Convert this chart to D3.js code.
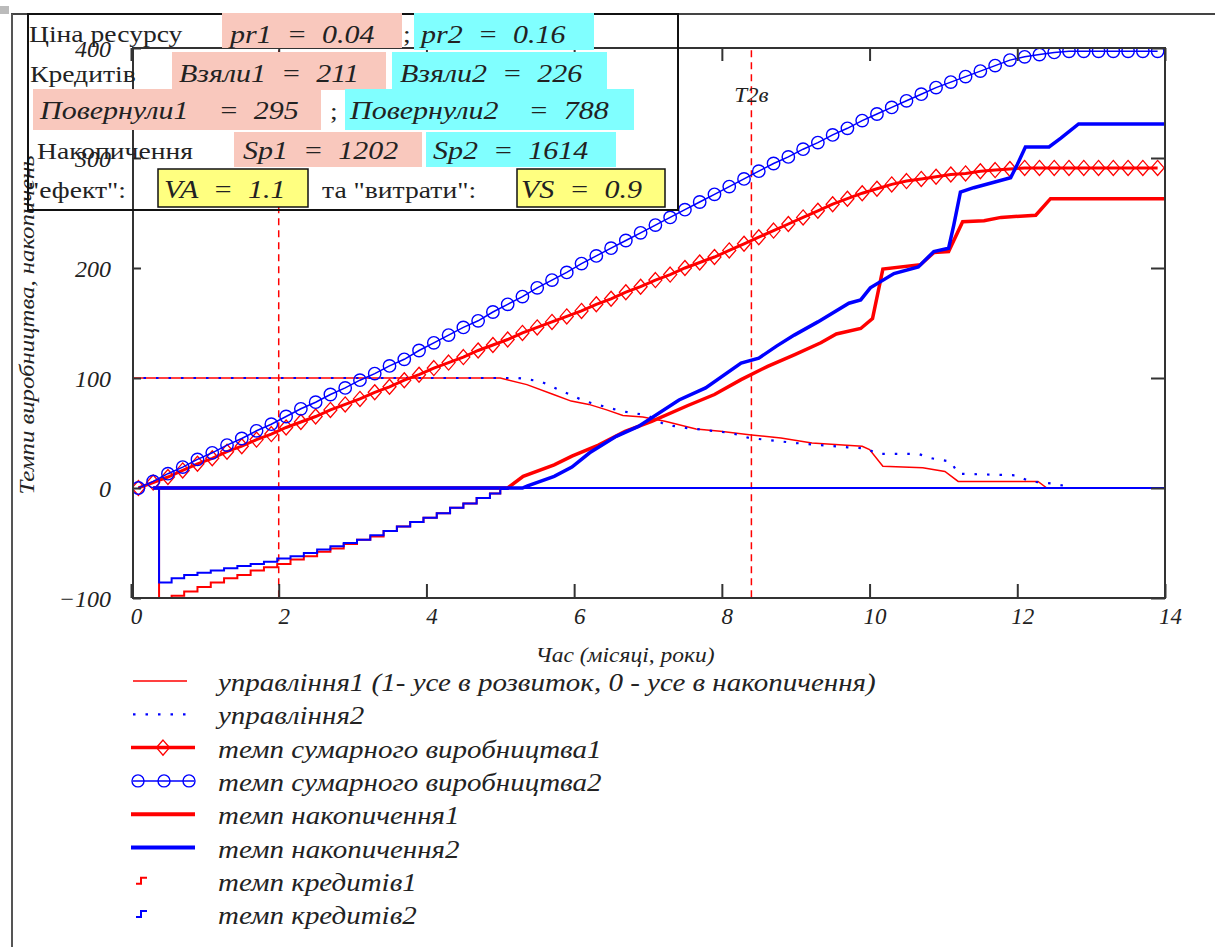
<!DOCTYPE html>
<html>
<head>
<meta charset="utf-8">
<script src="https://cdn.jsdelivr.net/npm/d3@7"></script>
<style>
  body { margin: 0; background: #fff; }
  text { font-family: "Liberation Serif", "Times New Roman", serif; fill: #222; }
  .it { font-style: italic; }
  .pre { white-space: pre; }
</style>
</head>
<body>
<svg id="chart" width="1215" height="947"></svg>
<script>
// ---- data ----
const prodTimes = d3.range(0.1, 14, 0.2);   // 0.1 .. 13.9
const prod1 = [0, 5, 10, 16, 22, 27, 33, 38, 44, 49, 55, 60, 65, 71, 76, 81, 87, 92, 98, 103,
  109, 114, 119, 125, 130, 135, 141, 146, 151, 156, 161, 167, 172, 178, 183, 189, 194, 200, 205, 210,
  216, 222, 228, 234, 240, 246, 252, 258, 263, 268, 272, 276, 279, 281, 283, 285, 286, 288, 289, 290,
  291, 291, 291, 291, 291, 291, 291, 291, 291, 291];
const prod2 = [0, 6, 13, 19, 26, 32, 39, 45, 52, 58, 65, 72, 78, 85, 91, 98, 104, 111, 117, 125,
  132, 139, 146, 152, 160, 167, 174, 182, 189, 196, 204, 211, 218, 225, 232, 239, 246, 253, 260, 267,
  274, 281, 288, 295, 301, 308, 314, 321, 327, 334, 340, 346, 352, 358, 364, 369, 374, 379, 384, 389,
  392, 394, 396, 397, 397, 397, 397, 397, 397, 397];

const ctrl1T = [0, 5.0, 5.36, 5.72, 5.96, 6.2, 6.44, 6.66, 6.93, 7.23, 7.65, 7.98, 8.37, 8.8, 9.22, 9.9, 10.0, 10.18, 10.72, 11.02, 11.2, 12.28, 12.4, 14];
const ctrl1V = [100, 100, 94, 85, 79, 76, 71, 66, 64.5, 60.6, 53.6, 51.5, 48.5, 45.5, 41, 38, 35, 19.7, 18.5, 15, 6, 6, 0, 0];
const ctrl2T = [0, 5.24, 5.54, 5.84, 6.14, 6.63, 6.99, 7.23, 7.53, 8.13, 8.37, 8.98, 9.7, 9.94, 10.12, 10.66, 10.84, 11.1, 11.2, 11.99, 12.17, 12.47, 12.68, 12.75, 14];
const ctrl2V = [100, 100, 97, 88, 79, 70, 66, 57.6, 54.5, 50, 45.5, 41, 37, 36, 31, 31, 27, 24, 13, 11.5, 6, 4, 1.5, 0, 0];

const acc1T = [0.3, 5.1, 5.31, 5.73, 5.97, 6.33, 6.69, 7.05, 7.54, 7.9, 8.26, 8.62, 8.98, 9.34, 9.55, 9.88, 10.04, 10.18, 10.69, 10.87, 11.07, 11.26, 11.55, 11.78, 12.25, 12.45, 14];
const acc1V = [0, 0, 10.6, 21, 29, 39, 51.5, 60.6, 75, 85, 98.5, 110.6, 121, 132, 140, 145, 154, 199, 203, 214, 215, 242, 243, 246, 248, 263, 263];
const acc2T = [0.3, 5.3, 5.37, 5.73, 5.97, 6.21, 6.57, 6.87, 7.42, 7.78, 8.26, 8.5, 8.74, 8.98, 9.3, 9.72, 9.88, 10.01, 10.33, 10.66, 10.87, 11.07, 11.14, 11.23, 11.41, 11.91, 12.0, 12.11, 12.43, 12.59, 12.83, 14];
const acc2V = [0, 0, 2, 10.6, 19, 32, 47, 56, 80, 91, 113.6, 118, 129, 139, 151, 168, 171, 182, 195, 201, 215, 218, 239, 269, 273, 282, 294, 310, 310, 318, 331, 331];

const credT = [0.3, 0.38, 0.55, 0.72, 0.9, 1.08, 1.26, 1.44, 1.62, 1.8, 1.98, 2.16, 2.34, 2.52, 2.7, 2.88, 3.06, 3.24, 3.42, 3.6, 3.78, 3.96, 4.14, 4.32, 4.5, 4.68, 4.86, 5.0, 5.1, 14];
const cred1V = [0, -105, -98, -94, -90, -86, -82, -79, -75, -72, -69, -65, -62, -58, -55, -51, -47, -44, -39, -35, -31, -27, -23, -18, -14, -9, -5, -1, 0, 0];
const cred2V = [0, -86, -82, -79, -77, -75, -73, -71, -69, -67, -64, -62, -59, -56, -53, -50, -47, -43, -39, -35, -31, -27, -23, -18, -14, -9, -5, -1, 0, 0];

const xTicks = [0, 2, 4, 6, 8, 10, 12, 14];
const yTicks = [-100, 0, 100, 200, 300, 400];
const markerX = [2, 8.4];
const markerLabels = ["", "T2в"];

const legendLabels = [
  "управління1 (1- усе в розвиток, 0 - усе в накопичення)",
  "управління2",
  "темп сумарного виробництва1",
  "темп сумарного виробництва2",
  "темп накопичення1",
  "темп накопичення2",
  "темп кредитів1",
  "темп кредитів2"
];

// ---- layout ----
const RED = "#ff0000", BLUE = "#0000ff", INK = "#333";
const svg = d3.select("#chart");
const x = d3.scaleLinear().domain([0, 14]).range([131, 1165]);
const y = d3.scaleLinear().domain([-100, 400]).range([598, 48]);

// text in the source picture is drawn wider than our serif; stretch it horizontally
function addText(parent, str, px, py, size, sx, cls, anchor) {
  return parent.append("text")
    .attr("class", cls || null)
    .attr("font-size", size)
    .attr("text-anchor", anchor || "start")
    .attr("transform", `translate(${px},${py}) scale(${sx},1)`)
    .text(str);
}

svg.append("defs").append("clipPath").attr("id", "plot")
  .append("rect").attr("x", 133).attr("y", 48).attr("width", 1032).attr("height", 550);

const zip = (ts, vs) => ts.map((t, i) => [t, vs[i]]);
const line = d3.line().x(d => x(d[0])).y(d => y(d[1]));
const stepLine = d3.line().x(d => x(d[0])).y(d => y(d[1])).curve(d3.curveStepAfter);

const plot = svg.append("g").attr("clip-path", "url(#plot)");

// vertical dashed markers
plot.selectAll(".marker").data(markerX).enter().append("line")
  .attr("x1", d => x(d)).attr("x2", d => x(d))
  .attr("y1", y(398)).attr("y2", y(-100))
  .attr("stroke", RED).attr("stroke-width", 1.5).attr("stroke-dasharray", "7,5");

// control lines
plot.append("path").attr("d", line(zip(ctrl1T, ctrl1V)))
  .attr("fill", "none").attr("stroke", RED).attr("stroke-width", 1.5);
plot.append("path").attr("d", line(zip(ctrl2T, ctrl2V)))
  .attr("fill", "none").attr("stroke", BLUE).attr("stroke-width", 2.2).attr("stroke-dasharray", "2.5,10");

// production 1 (thick red + diamonds)
const p1 = zip(prodTimes, prod1);
plot.append("path").attr("d", line(p1))
  .attr("fill", "none").attr("stroke", RED).attr("stroke-width", 3);
plot.selectAll(".dia").data(p1).enter().append("path")
  .attr("d", d => `M${x(d[0])},${y(d[1]) - 7.5}l6.5,7.5l-6.5,7.5l-6.5,-7.5z`)
  .attr("fill", "none").attr("stroke", RED).attr("stroke-width", 1.3);

// production 2 (thin blue + circles)
const p2 = zip(prodTimes, prod2);
plot.append("path").attr("d", line(p2))
  .attr("fill", "none").attr("stroke", BLUE).attr("stroke-width", 1.5);
plot.selectAll(".circ").data(p2).enter().append("circle")
  .attr("cx", d => x(d[0])).attr("cy", d => y(d[1])).attr("r", 6.2)
  .attr("fill", "none").attr("stroke", BLUE).attr("stroke-width", 1.4);

// accumulation
plot.append("path").attr("d", line(zip(acc1T, acc1V)))
  .attr("fill", "none").attr("stroke", RED).attr("stroke-width", 3.5);
plot.append("path").attr("d", line(zip(acc2T, acc2V)))
  .attr("fill", "none").attr("stroke", BLUE).attr("stroke-width", 3.5);

// credits (steps)
plot.append("path").attr("d", stepLine(zip(credT, cred1V)))
  .attr("fill", "none").attr("stroke", RED).attr("stroke-width", 2);
plot.append("path").attr("d", stepLine(zip(credT, cred2V)))
  .attr("fill", "none").attr("stroke", BLUE).attr("stroke-width", 2);

// marker labels
markerX.forEach((m, i) => {
  if (markerLabels[i]) addText(svg, markerLabels[i], x(m), 102, 21, 1.1, "it", "middle");
});

// ---- axes (ticks inward) ----
const axB = svg.append("g").attr("transform", `translate(0,${y(-100)})`)
  .call(d3.axisBottom(x).tickValues(xTicks).tickSize(-14).tickPadding(10));
const axL = svg.append("g").attr("transform", "translate(133,0)")
  .call(d3.axisLeft(y).tickValues(yTicks).tickSize(-8).tickPadding(22));
svg.append("g").attr("transform", `translate(0,${y(400)})`)
  .call(d3.axisTop(x).tickValues(xTicks).tickSize(-13).tickFormat(""));
svg.append("g").attr("transform", "translate(1165,0)")
  .call(d3.axisRight(y).tickValues(yTicks).tickSize(-14).tickFormat(""));
svg.selectAll(".domain").remove();
svg.selectAll(".tick line").attr("stroke", INK).attr("stroke-width", 2);
axB.selectAll("text").attr("class", "it").attr("font-size", 23).attr("font-family", null)
  .attr("dx", 5).attr("fill", "#222");
axL.selectAll("text").attr("class", "it").attr("font-size", 24).attr("font-family", null)
  .attr("fill", "#222").attr("dy", "0.35em")
  .text(d => d < 0 ? "\u2212" + Math.abs(d) : d);

// frame
svg.append("rect").attr("x", 133).attr("y", 48).attr("width", 1032).attr("height", 550)
  .attr("fill", "none").attr("stroke", INK).attr("stroke-width", 2);

// axis titles
addText(svg, "Час (місяці, роки)", 625, 662, 21, 1.12, "it", "middle");
svg.append("text").attr("class", "it").attr("font-size", 21)
  .attr("text-anchor", "middle")
  .attr("transform", "translate(34,325) rotate(-90) scale(1.18,1)")
  .text("Темпи виробництва, накопичень");

// ---- legend ----
const lg = svg.append("g");
legendLabels.forEach((lab, i) => {
  const ly = 681 + i * 33.3;
  const g = lg.append("g");
  if (i === 0) g.append("line").attr("x1", 133).attr("x2", 187).attr("y1", ly).attr("y2", ly).attr("stroke", RED).attr("stroke-width", 1.5);
  if (i === 1) g.append("line").attr("x1", 133).attr("x2", 190).attr("y1", ly).attr("y2", ly).attr("stroke", BLUE).attr("stroke-width", 2.2).attr("stroke-dasharray", "2.5,10");
  if (i === 2) {
    g.append("line").attr("x1", 131).attr("x2", 195).attr("y1", ly).attr("y2", ly).attr("stroke", RED).attr("stroke-width", 3.5);
    g.append("path").attr("d", `M163,${ly - 7.5}l6.5,7.5l-6.5,7.5l-6.5,-7.5z`).attr("fill", "none").attr("stroke", RED).attr("stroke-width", 1.4);
  }
  if (i === 3) {
    g.append("line").attr("x1", 133).attr("x2", 194).attr("y1", ly).attr("y2", ly).attr("stroke", BLUE).attr("stroke-width", 1.5);
    [138, 164, 189].forEach(cx => g.append("circle").attr("cx", cx).attr("cy", ly).attr("r", 6).attr("fill", "none").attr("stroke", BLUE).attr("stroke-width", 1.4));
  }
  if (i === 4 || i === 5) g.append("line").attr("x1", 131).attr("x2", 195).attr("y1", ly).attr("y2", ly).attr("stroke", i === 4 ? RED : BLUE).attr("stroke-width", 4);
  if (i === 6 || i === 7) g.append("path").attr("d", `M136,${ly + 3}h5v-6h6`).attr("fill", "none").attr("stroke", i === 6 ? RED : BLUE).attr("stroke-width", 2);
  addText(g, lab, 218, ly + 10, 25, 1.16, "it");
});

// ---- info box ----
const PINK = "#f9c8bd", CYAN = "#80ffff", YEL = "#ffff80";
const info = svg.append("g");
info.append("line").attr("x1", 11).attr("x2", 1215).attr("y1", 14).attr("y2", 14).attr("stroke", "#444").attr("stroke-width", 2);
info.append("rect").attr("x", 28).attr("y", 14).attr("width", 650).attr("height", 196)
  .attr("fill", "none").attr("stroke", "#111").attr("stroke-width", 2);

const cells = [
  { x: 222, y: 13, w: 180, h: 35, c: PINK, t: "pr1  =  0.04", tx: 230, ty: 43 },
  { x: 414, y: 13, w: 180, h: 37, c: CYAN, t: "pr2  =  0.16", tx: 421, ty: 43 },
  { x: 172, y: 52, w: 214, h: 38, c: PINK, t: "Взяли1  =  211", tx: 179, ty: 82 },
  { x: 392, y: 52, w: 215, h: 38, c: CYAN, t: "Взяли2  =  226", tx: 400, ty: 82 },
  { x: 33, y: 89, w: 288, h: 41, c: PINK, t: "Повернули1    =  295", tx: 40, ty: 119 },
  { x: 345, y: 89, w: 289, h: 41, c: CYAN, t: "Повернули2    =  788", tx: 350, ty: 119 },
  { x: 234, y: 132, w: 188, h: 35, c: PINK, t: "Sp1  =  1202", tx: 243, ty: 159 },
  { x: 426, y: 132, w: 190, h: 35, c: CYAN, t: "Sp2  =  1614", tx: 433, ty: 159 },
  { x: 158, y: 169, w: 150, h: 38, c: YEL, t: "VA  =  1.1", tx: 164, ty: 198, b: true },
  { x: 517, y: 169, w: 148, h: 38, c: YEL, t: "VS  =  0.9", tx: 521, ty: 198, b: true }
];
cells.forEach(d => {
  info.append("rect").attr("x", d.x).attr("y", d.y).attr("width", d.w).attr("height", d.h)
    .attr("fill", d.c).attr("stroke", d.b ? "#111" : "none").attr("stroke-width", 1.5);
  addText(info, d.t, d.tx, d.ty, 25, 1.2, "it pre");
});
const plain = [
  { t: "Ціна ресурсу", x: 29, y: 42 },
  { t: ";", x: 403, y: 42 },
  { t: "Кредитів", x: 30, y: 82 },
  { t: ";", x: 330, y: 119 },
  { t: "Накопичення", x: 37, y: 159 },
  { t: "\"ефект\":", x: 28, y: 198 },
  { t: "та \"витрати\":", x: 322, y: 198 }
];
plain.forEach(d => addText(info, d.t, d.x, d.y, 24, 1.15));

// page edges
svg.append("line").attr("x1", 12).attr("x2", 12).attr("y1", 14).attr("y2", 947).attr("stroke", "#555").attr("stroke-width", 2);
svg.append("rect").attr("x", 0).attr("y", 6).attr("width", 9).attr("height", 8).attr("fill", "#bbb");
</script>
</body>
</html>
